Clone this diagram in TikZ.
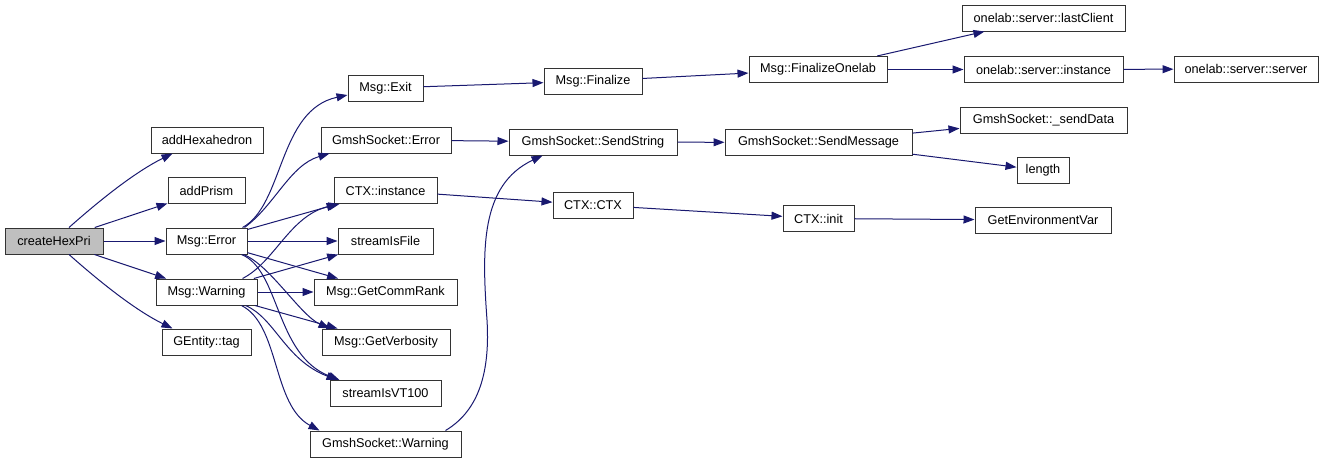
\documentclass[tikz,border=0pt]{standalone}
\usepackage{fontspec}
\setmainfont{Liberation Sans}
\usetikzlibrary{arrows.meta}
\definecolor{edgeblue}{HTML}{191970}
\definecolor{boxline}{HTML}{333333}
\definecolor{rootfill}{HTML}{BFBFBF}
\begin{document}
\begin{tikzpicture}[x=1pt,y=-1pt,
  fn/.style={draw=boxline, line width=1pt, fill=white, minimum height=26pt, inner sep=0pt,
             font=\fontsize{12.7}{14}\selectfont},
  call/.style={draw=edgeblue, line width=1pt, -{Triangle[length=11pt,width=8pt]}}]
\fill[white] (0,0) rectangle (1324,463);
\useasboundingbox (0,0) rectangle (1324,463);
% column 1
\node[fn, minimum width=98pt, fill=rootfill] (create) at (54,241) {createHexPri};
% column 2
\node[fn, minimum width=112pt] (hex)   at (207,140)   {addHexahedron};
\node[fn, minimum width=77pt]  (prism) at (206.5,190.5) {addPrism};
\node[fn, minimum width=81pt]  (err)   at (206.5,241) {Msg::Error};
\node[fn, minimum width=101pt] (warn)  at (206.5,292) {Msg::Warning};
\node[fn, minimum width=89pt]  (tag)   at (206.5,342) {GEntity::tag};
% column 3
\node[fn, minimum width=75pt]  (exit)  at (385.5,88)  {Msg::Exit};
\node[fn, minimum width=130pt] (gserr) at (386,140)   {GmshSocket::Error};
\node[fn, minimum width=103pt] (ctxi)  at (385.5,190.5) {CTX::instance};
\node[fn, minimum width=95pt]  (sif)   at (385.5,241) {streamIsFile};
\node[fn, minimum width=143pt] (rank)  at (385.5,292) {Msg::GetCommRank};
\node[fn, minimum width=128pt] (verb)  at (386,342)   {Msg::GetVerbosity};
\node[fn, minimum width=111pt] (vt)    at (385.5,393.5) {streamIsVT100};
\node[fn, minimum width=151pt] (gsw)   at (385.5,444) {GmshSocket::Warning};
% column 4
\node[fn, minimum width=98pt]  (fin)   at (593,81)    {Msg::Finalize};
\node[fn, minimum width=168pt] (sstr)  at (593,142)   {GmshSocket::SendString};
\node[fn, minimum width=80pt]  (ctx)   at (593,205)   {CTX::CTX};
% column 5
\node[fn, minimum width=138pt] (fon)   at (818,69.5)  {Msg::FinalizeOnelab};
\node[fn, minimum width=187pt] (smsg)  at (818.5,142.5) {GmshSocket::SendMessage};
\node[fn, minimum width=71pt]  (cinit) at (818.5,218.5) {CTX::init};
% column 6
\node[fn, minimum width=163pt] (last)  at (1043.5,18) {onelab::server::lastClient};
\node[fn, minimum width=159pt] (oinst) at (1043.5,69.5) {onelab::server::instance};
\node[fn, minimum width=167pt] (sdata) at (1043.5,120) {GmshSocket::\_sendData};
\node[fn, minimum width=52pt]  (len)   at (1043,170.5) {length};
\node[fn, minimum width=136pt] (genv)  at (1043,220)  {GetEnvironmentVar};
% column 7
\node[fn, minimum width=144pt] (osrv)  at (1246,69)   {onelab::server::server};

% edges from createHexPri
\draw[call] ([xshift=15pt]create.north) .. controls (100,200) and (135,172) .. ([xshift=22pt]hex.south west);
\draw[call] (create) -- (prism);
\draw[call] (create) -- (err);
\draw[call] (create) -- (warn);
\draw[call] ([xshift=15pt]create.south) .. controls (100,282) and (135,310) .. ([xshift=11pt]tag.north west);
% edges from Msg::Error
\draw[call] ([xshift=-5pt]err.north east) .. controls (284,205) and (278,110) .. ([yshift=-7pt]exit.west);
\draw[call] ([xshift=-3pt]err.north east) .. controls (275,205) and (290,165) .. ([xshift=9pt]gserr.south west);
\draw[call] (err) -- (ctxi);
\draw[call] (err) -- (sif);
\draw[call] (err) -- (rank);
\draw[call] ([xshift=-4pt]err.south east) .. controls (270,265) and (300,315) .. ([xshift=8pt]verb.north west);
\draw[call] ([xshift=-6pt]err.south east) .. controls (280,270) and (275,355) .. ([xshift=10pt]vt.north west);
% edges from Msg::Warning
\draw[call] ([xshift=-15pt]warn.north east) .. controls (275,262) and (290,215) .. ([xshift=6pt]ctxi.south west);
\draw[call] (warn) -- (sif);
\draw[call] (warn) -- (rank);
\draw[call] (warn) -- (verb);
\draw[call] ([xshift=-12pt]warn.south east) .. controls (275,318) and (285,360) .. ([xshift=8pt]vt.north west);
\draw[call] ([xshift=-16pt]warn.south east) .. controls (280,325) and (272,405) .. ([xshift=10pt]gsw.north west);
% column 3 -> 4
\draw[call] (exit) -- (fin);
\draw[call] (gserr) -- (sstr);
\draw[call] (ctxi) -- (ctx);
\draw[call] ([xshift=-16pt]gsw.north east) .. controls (480,410) and (490,370) .. (487,320)
            .. controls (482,250) and (480,185) .. ([xshift=34pt]sstr.south west);
% column 4 -> 5
\draw[call] (fin) -- (fon);
\draw[call] (sstr) -- (smsg);
\draw[call] (ctx) -- (cinit);
% column 5 -> 6
\draw[call] (fon) -- (last);
\draw[call] (fon) -- (oinst);
\draw[call] (smsg) -- (sdata);
\draw[call] (smsg) -- (len);
\draw[call] (cinit) -- (genv);
% column 6 -> 7
\draw[call] (oinst) -- (osrv);
\end{tikzpicture}
\end{document}
